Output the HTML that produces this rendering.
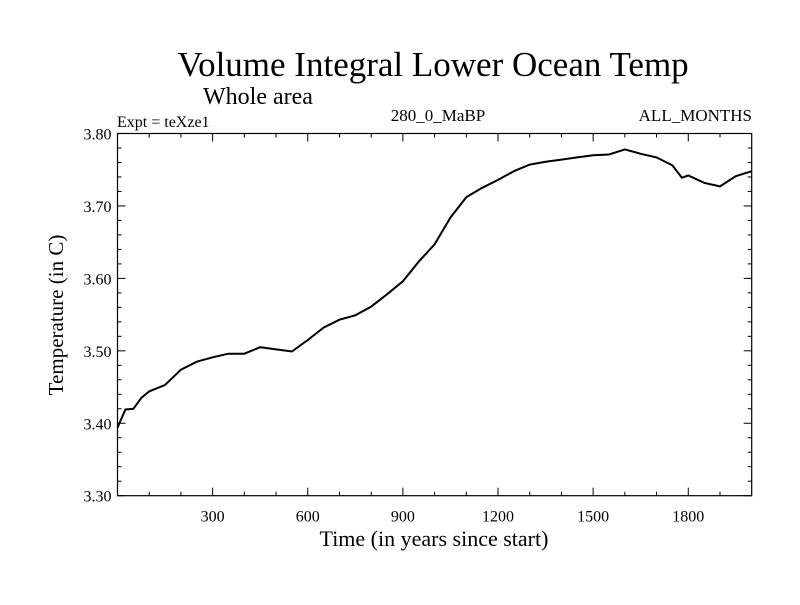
<!DOCTYPE html>
<html><head><meta charset="utf-8"><style>
body{margin:0;background:#fff}
svg text{font-family:"Liberation Serif",serif;fill:#000}
</style></head><body>
<svg width="800" height="600">
<text x="433" y="76" font-size="35" text-anchor="middle">Volume Integral Lower Ocean Temp</text>
<text x="203" y="104" font-size="24">Whole area</text>
<text x="117" y="127" font-size="16">Expt = teXze1</text>
<text x="438" y="121" font-size="17" text-anchor="middle">280_0_MaBP</text>
<text x="752" y="121" font-size="17" text-anchor="end">ALL_MONTHS</text>
<g id="axes"></g>
<text x="434" y="546" font-size="22" text-anchor="middle">Time (in years since start)</text>
<text transform="translate(63,315) rotate(-90)" font-size="21" text-anchor="middle">Temperature (in C)</text>
</svg>
<script>
const years=[0,25,50,75,100,150,200,250,300,350,400,450,500,550,600,650,700,750,800,850,900,950,1000,1050,1100,1150,1200,1250,1300,1350,1400,1450,1500,1550,1600,1650,1700,1750,1780,1800,1850,1900,1950,2000];
const temps=[3.394,3.419,3.42,3.435,3.444,3.453,3.474,3.485,3.491,3.496,3.496,3.505,3.502,3.499,3.515,3.532,3.543,3.549,3.561,3.578,3.596,3.623,3.647,3.684,3.712,3.725,3.736,3.748,3.757,3.761,3.764,3.767,3.770,3.771,3.778,3.772,3.767,3.756,3.739,3.742,3.732,3.727,3.741,3.748];
const xTicks=[300,600,900,1200,1500,1800];
const yTicks=[3.30,3.40,3.50,3.60,3.70,3.80];
const X0=117.5,X1=751.7,Y0=495.7,Y1=133.5;
const sx=v=>X0+(v-0)/(2000-0)*(X1-X0);
const sy=v=>Y0-(v-3.3)/(0.5)*(Y0-Y1);
const NS='http://www.w3.org/2000/svg';
const g=document.getElementById('axes');
function mk(t,a){const e=document.createElementNS(NS,t);for(const k in a)e.setAttribute(k,a[k]);g.appendChild(e);return e;}
const frame=mk('rect',{x:X0,y:Y1,width:X1-X0,height:Y0-Y1,fill:'none',stroke:'#000','stroke-width':1.2});


for(let v=100;v<2000;v+=100){const maj=v%300===0;const L=maj?8:4;
mk('line',{x1:sx(v),x2:sx(v),y1:Y0,y2:Y0-L,stroke:'#000'});
mk('line',{x1:sx(v),x2:sx(v),y1:Y1,y2:Y1+L,stroke:'#000'});}
for(let i=0;i<=25;i++){const v=3.3+i*0.02;const maj=i%5===0;const L=maj?8:4;
mk('line',{x1:X0,x2:X0+L,y1:sy(v),y2:sy(v),stroke:'#000'});
mk('line',{x1:X1,x2:X1-L,y1:sy(v),y2:sy(v),stroke:'#000'});}
xTicks.forEach(v=>{const t=mk('text',{x:sx(v),y:Y0+26,'font-size':16,'text-anchor':'middle'});t.textContent=v;

});
yTicks.forEach(v=>{const t=mk('text',{x:X0-6,y:sy(v)+6,'font-size':16,'text-anchor':'end'});t.textContent=v.toFixed(2);

});
const p=mk('path',{d:years.map((y,i)=>(i?'L':'M')+sx(y).toFixed(1)+','+sy(temps[i]).toFixed(1)).join(''),fill:'none',stroke:'#000','stroke-width':2});


</script>
</body></html>
